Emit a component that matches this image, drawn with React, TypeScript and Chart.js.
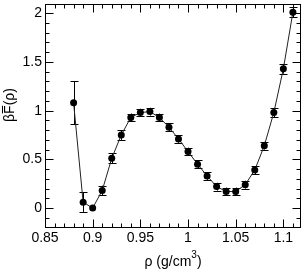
import React, { useEffect, useRef } from "react";
import { Chart, registerables } from "chart.js";

Chart.register(...registerables);

// ---- data ----
const densities = [0.88, 0.89, 0.9, 0.91, 0.92, 0.93, 0.94, 0.95, 0.96, 0.97, 0.98, 0.99, 1.0, 1.01, 1.02, 1.03, 1.04, 1.05, 1.06, 1.07, 1.08, 1.09, 1.1, 1.11];
const freeEnergy = [1.08, 0.06, 0.0, 0.18, 0.51, 0.75, 0.93, 0.98, 0.99, 0.93, 0.83, 0.71, 0.58, 0.45, 0.33, 0.22, 0.17, 0.17, 0.24, 0.39, 0.64, 0.98, 1.43, 2.01];
const errors = [0.22, 0.1, 0.0, 0.05, 0.05, 0.05, 0.04, 0.04, 0.04, 0.04, 0.04, 0.04, 0.04, 0.04, 0.04, 0.04, 0.04, 0.04, 0.04, 0.04, 0.04, 0.05, 0.05, 0.05];
const xTickValues = [0.85, 0.9, 0.95, 1, 1.05, 1.1];
const yTickValues = [0, 0.5, 1, 1.5, 2];
const xRange = [0.85, 1.1185];
const yRange = [-0.205, 2.095];
const xMinorStep = 0.01;
const yMinorStep = 0.1;

const FONT = "'Liberation Sans', Arial, Helvetica, sans-serif";

const errorBarPlugin = {
  id: "errorBars",
  beforeDatasetsDraw(chart: any) {
    const { ctx, scales } = chart;
    const xs = scales.x;
    const ys = scales.y;
    ctx.save();
    ctx.strokeStyle = "#000";
    ctx.lineWidth = 1;
    densities.forEach((d, i) => {
      const e = errors[i];
      if (!e) return;
      const px = Math.round(xs.getPixelForValue(d)) + 0.5;
      const top = ys.getPixelForValue(freeEnergy[i] + e);
      const bot = ys.getPixelForValue(freeEnergy[i] - e);
      ctx.beginPath();
      ctx.moveTo(px, top);
      ctx.lineTo(px, bot);
      const t = Math.round(top) + 0.5;
      const b = Math.round(bot) + 0.5;
      ctx.moveTo(px - 4, t);
      ctx.lineTo(px + 4, t);
      ctx.moveTo(px - 4, b);
      ctx.lineTo(px + 4, b);
      ctx.stroke();
    });
    ctx.restore();
  },
};

const framePlugin = {
  id: "frame",
  afterDraw(chart: any) {
    const { ctx, chartArea: a, scales } = chart;
    const xs = scales.x;
    const ys = scales.y;
    ctx.save();
    ctx.strokeStyle = "#000";
    ctx.lineWidth = 1;
    const L = a.left + 0.5;
    const R = a.right - 0.5;
    const T = a.top + 0.5;
    const B = a.bottom - 0.5;
    ctx.strokeRect(L, T, R - L, B - T);
    ctx.beginPath();
    // x ticks (bottom and top), inward
    const nx = Math.round((xRange[1] - xRange[0]) / xMinorStep);
    for (let k = 0; k <= nx; k++) {
      const v = xRange[0] + k * xMinorStep;
      const major = xTickValues.some((t) => Math.abs(t - v) < 1e-6);
      const len = major ? 8 : 4;
      const px = Math.round(xs.getPixelForValue(v)) + 0.5;
      if (px < L || px > R) continue;
      ctx.moveTo(px, B);
      ctx.lineTo(px, B - len);
      ctx.moveTo(px, T);
      ctx.lineTo(px, T + len);
    }
    // y ticks (left and right), inward
    const startY = Math.ceil(yRange[0] / yMinorStep - 1e-6);
    const endY = Math.floor(yRange[1] / yMinorStep + 1e-6);
    for (let k = startY; k <= endY; k++) {
      const v = k * yMinorStep;
      const major = yTickValues.some((t) => Math.abs(t - v) < 1e-6);
      const len = major ? 8 : 4;
      const py = Math.round(ys.getPixelForValue(v)) + 0.5;
      if (py < T || py > B) continue;
      ctx.moveTo(L, py);
      ctx.lineTo(L + len, py);
      ctx.moveTo(R, py);
      ctx.lineTo(R - len, py);
    }
    ctx.stroke();

    // axis titles
    ctx.fillStyle = "#000";
    // y title: βF̄(ρ), rotated
    ctx.save();
    ctx.translate(14, 105);
    ctx.rotate(-Math.PI / 2);
    ctx.font = `14px ${FONT}`;
    ctx.textBaseline = "alphabetic";
    ctx.textAlign = "left";
    const p1 = "β";
    const p2 = "F";
    const p3 = "(ρ)";
    const w1 = ctx.measureText(p1).width;
    const w2 = ctx.measureText(p2).width;
    const w3 = ctx.measureText(p3).width;
    let sx = -(w1 + w2 + w3) / 2;
    ctx.fillText(p1, sx, 0);
    ctx.fillText(p2, sx + w1, 0);
    ctx.fillText(p3, sx + w1 + w2, 0);
    ctx.beginPath();
    ctx.moveTo(sx + w1 + 0.5, -11.5);
    ctx.lineTo(sx + w1 + w2 - 0.5, -11.5);
    ctx.stroke();
    ctx.restore();

    // x title: ρ (g/cm³)
    const cx = (a.left + a.right) / 2;
    ctx.textAlign = "left";
    ctx.textBaseline = "alphabetic";
    ctx.font = `14px ${FONT}`;
    const q1 = "ρ (g/cm";
    const q3 = ")";
    const v1 = ctx.measureText(q1).width;
    const v3 = ctx.measureText(q3).width;
    ctx.font = `10px ${FONT}`;
    const q2 = "3";
    const v2 = ctx.measureText(q2).width;
    let tx = cx - (v1 + v2 + v3) / 2;
    ctx.font = `14px ${FONT}`;
    ctx.fillText(q1, tx, 266);
    ctx.font = `10px ${FONT}`;
    ctx.fillText(q2, tx + v1, 258);
    ctx.font = `14px ${FONT}`;
    ctx.fillText(q3, tx + v1 + v2, 266);
    ctx.restore();
  },
};

export default function App() {
  const canvasRef = useRef<HTMLCanvasElement | null>(null);

  useEffect(() => {
    if (!canvasRef.current) return;
    const chart = new Chart(canvasRef.current, {
      type: "scatter",
      data: {
        datasets: [
          {
            data: densities.map((d, i) => ({ x: d, y: freeEnergy[i] })),
            showLine: true,
            borderColor: "#222",
            borderWidth: 1,
            backgroundColor: "#000",
            pointBackgroundColor: "#000",
            pointBorderColor: "#000",
            pointRadius: 3.5,
            pointBorderWidth: 0,
            tension: 0,
          },
        ],
      },
      options: {
        animation: false,
        responsive: false,
        maintainAspectRatio: false,
        layout: { padding: { top: 2, right: 1, left: 0, bottom: 0 } },
        plugins: {
          legend: { display: false },
          tooltip: { enabled: false },
        },
        scales: {
          x: {
            type: "linear",
            min: xRange[0],
            max: xRange[1],
            grid: { display: false, drawTicks: false },
            border: { display: false },
            afterBuildTicks: (scale: any) => {
              scale.ticks = xTickValues.map((v) => ({ value: v }));
            },
            afterFit: (scale: any) => {
              scale.height = 45;
              scale.paddingLeft = 0;
              scale.paddingRight = 0;
              scale.paddingTop = 0;
              scale.paddingBottom = 0;
            },
            ticks: {
              padding: 2,
              maxRotation: 0,
              autoSkip: false,
              color: "#000",
              font: { family: FONT, size: 14 },
              callback: (v: any) => String(v),
            },
          },
          y: {
            type: "linear",
            min: yRange[0],
            max: yRange[1],
            grid: { display: false, drawTicks: false },
            border: { display: false },
            afterBuildTicks: (scale: any) => {
              scale.ticks = yTickValues.map((v) => ({ value: v }));
            },
            afterFit: (scale: any) => {
              scale.width = 45;
              scale.paddingLeft = 0;
              scale.paddingRight = 0;
              scale.paddingTop = 0;
              scale.paddingBottom = 0;
            },
            ticks: {
              padding: 3,
              autoSkip: false,
              color: "#000",
              font: { family: FONT, size: 14 },
              callback: (v: any) => String(v),
            },
          },
        },
      },
      plugins: [errorBarPlugin, framePlugin],
    });
    return () => chart.destroy();
  }, []);

  return (
    <div style={{ position: "absolute", left: 0, top: 0, width: 305, height: 273, background: "#fff" }}>
      <canvas ref={canvasRef} width={305} height={273} />
    </div>
  );
}
